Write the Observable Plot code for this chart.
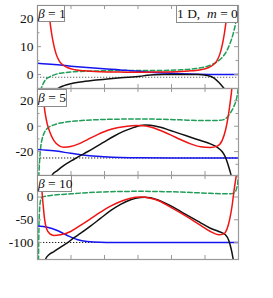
<!DOCTYPE html>
<html><head><meta charset="utf-8">
<script src="https://cdn.jsdelivr.net/npm/d3@7"></script>
<script src="https://cdn.jsdelivr.net/npm/@observablehq/plot@0.6"></script>
<style>
body{margin:0;background:#fff;}
#wrap{position:relative;width:273px;height:298px;overflow:hidden;font-family:"Liberation Serif","Times New Roman",serif;background:#fff;}
.panel{position:absolute;left:0;}
.lab{position:absolute;background:#fff;border:1px solid #8c8c8c;font-size:13.5px;line-height:15px;color:#111;white-space:nowrap;box-sizing:border-box;text-align:center;}
</style></head><body><div id="wrap"></div>
<script>
// ---------- data (x in [0,6]) ----------
const betas = [1, 5, 10];
const panelLabels = ["β = 1", "β = 5", "β = 10"];
const asymptotes = [-1, -25, -100];
const xTicks = [1, 2, 3, 4, 5];
const yLabelTicks = [[0, 10, 20], [-20, 0, 20], [-100, -50, 0]];
const yMinorTicks = [[0, 5, 10, 15, 20], [-30, -20, -10, 0, 10, 20], [-100, -50, 0]];
const yDomains = [[-5.04, 24.8], [-38.8, 29.7], [-137.4, 47.3]];

const red1 = [[0.26,40],[0.32,26],[0.373,19],[0.418,15],[0.478,11],[0.552,7.5],[0.642,5],[0.761,3.4],[0.91,2.4],[1.119,1.7],[1.418,1.3],[1.866,1.0],[2.463,0.85],[3.0,0.8],[3.537,0.85],[4.134,1.0],[4.582,1.3],[4.881,1.7],[5.09,2.4],[5.239,3.4],[5.358,5],[5.448,7.5],[5.522,11],[5.582,15],[5.627,19],[5.68,26],[5.74,40]];
const blue1 = [[0,4.06],[0.49,3.6],[0.99,3.0],[1.48,2.5],[1.98,2.05],[2.48,1.65],[2.78,1.35],[3.07,1.15],[3.27,0.9],[3.77,0.5],[4.27,0.25],[4.77,0.1],[5.26,0.0],[6,-0.05]];
const green1 = [[0.09,-6],[0.11,-5.1],[0.17,-3.3],[0.24,-1.9],[0.34,-1.0],[0.44,-0.4],[0.59,0.25],[0.79,0.6],[1.08,0.97],[1.48,1.19],[1.98,1.33],[2.48,1.42],[3.07,1.44],[3.77,1.45],[4.27,1.68],[4.67,2.05],[4.96,2.6],[5.21,3.6],[5.41,5.0],[5.56,6.8],[5.68,9.2],[5.76,11.6],[5.84,14.6],[5.91,18.2],[5.96,21.8],[5.99,24.8],[6.0,27]];
const black1 = [[0.5,-6.5],[0.54,-5.8],[0.64,-4.8],[0.79,-4.0],[0.99,-3.3],[1.28,-2.7],[1.68,-2.1],[2.08,-1.6],[2.48,-1.15],[3.07,-0.65],[3.27,-0.3],[3.77,-0.05],[4.27,0],[4.77,-0.05],[5.07,-0.4],[5.26,-1.2],[5.41,-2.8],[5.54,-4.6],[5.61,-5.8],[5.65,-7]];

const red2 = [[0.12,45],[0.16,30],[0.21,13.7],[0.24,8.4],[0.29,1.9],[0.37,-4.7],[0.49,-11.3],[0.64,-15.2],[0.79,-16.5],[0.99,-16.0],[1.23,-13.9],[1.48,-10.7],[1.78,-6.8],[2.08,-3.4],[2.38,-1.2],[2.68,0.0],[2.95,0.5],[3.15,0.4],[3.37,-0.6],[3.67,-3.4],[3.97,-6.8],[4.27,-10.5],[4.57,-13.9],[4.87,-16.2],[5.16,-16.8],[5.36,-15.7],[5.51,-11.3],[5.61,-3.4],[5.68,5.8],[5.74,16.3],[5.79,26.8],[5.82,35]];
const black2 = [[0.4,-42],[0.44,-38.3],[0.59,-34.9],[0.79,-30.9],[1.08,-26.2],[1.38,-21.7],[1.68,-17.3],[1.98,-12.6],[2.28,-7.9],[2.58,-3.9],[2.88,-0.9],[3.07,0.6],[3.22,1.0],[3.37,0.8],[3.67,-0.8],[3.97,-3.4],[4.27,-6.0],[4.57,-8.7],[4.87,-11.3],[5.16,-13.9],[5.36,-16.5],[5.51,-19.9],[5.61,-24.4],[5.68,-29.6],[5.74,-34.9],[5.78,-38.8],[5.8,-42]];
const blue2 = [[0,-18.3],[0.49,-19.4],[0.99,-21.3],[1.48,-23.1],[1.98,-24.0],[2.48,-24.6],[3.07,-24.9],[4,-25],[6,-25]];
const green2 = [[0.03,-40],[0.04,-38],[0.06,-28.3],[0.09,-17.8],[0.14,-9.9],[0.21,-4.7],[0.34,-0.8],[0.49,1.1],[0.79,3.0],[1.18,4.2],[1.68,5.0],[2.28,5.5],[3.07,5.7],[3.67,5.5],[4.27,5.0],[4.87,4.5],[5.36,4.5],[5.56,5.2],[5.66,7.0],[5.76,10.5],[5.86,15.5],[5.93,20.5],[5.97,25.5],[6.0,31]];

const red3 = [[0.11,50],[0.14,7],[0.17,-18.7],[0.21,-48],[0.27,-70],[0.37,-81],[0.49,-84.6],[0.69,-83],[0.99,-75.8],[1.28,-62.6],[1.58,-48],[1.88,-33.4],[2.18,-20.2],[2.48,-9.9],[2.78,-2.6],[3.05,-0.2],[3.37,-2.6],[3.67,-9.9],[3.97,-22.4],[4.27,-34.7],[4.57,-48],[4.87,-62.6],[5.16,-75.8],[5.41,-83],[5.56,-81],[5.66,-70],[5.74,-48],[5.81,-18.7],[5.86,10.5],[5.91,36],[5.94,50]];
const black3 = [[0.22,-145],[0.24,-137],[0.34,-127],[0.49,-120],[0.69,-110],[0.89,-101],[1.08,-90],[1.28,-80],[1.58,-64],[1.88,-47],[2.18,-30],[2.48,-16],[2.78,-6],[3.07,-1.0],[3.2,-0.3],[3.37,-1.5],[3.67,-8.5],[3.97,-19],[4.27,-31.5],[4.57,-44.4],[4.87,-56.7],[5.16,-68.6],[5.41,-75.8],[5.61,-83],[5.71,-95.6],[5.78,-113.8],[5.83,-132],[5.86,-145]];
const blue3 = [[0,-64],[0.29,-66.4],[0.59,-73.6],[0.89,-84.6],[1.18,-93.4],[1.48,-98],[1.88,-99.7],[2.5,-100],[6,-100]];
const green3 = [[0.03,-140],[0.04,-80],[0.06,-30],[0.09,-8],[0.14,0],[0.39,3.3],[0.99,7],[1.88,11],[3.07,12.5],[3.97,11.5],[4.57,10],[5.16,8],[5.56,7],[5.76,7],[5.88,10],[5.94,18],[5.97,28],[5.99,40],[6.0,50]];

const seriesByPanel = [
  {red: red1, black: black1, blue: blue1, green: green1},
  {red: red2, black: black2, blue: blue2, green: green2},
  {red: red3, black: black3, blue: blue3, green: green3}
];

// ---------- layout ----------
const W = 273, ML = 37, MR = 35;
const layout = [
  {top: 0, height: 90, mt: 5, mb: 2},
  {top: 86, height: 91, mt: 2, mb: 2},
  {top: 173, height: 88, mt: 2, mb: 2}
];
const colors = {red: "#f01414", black: "#111111", blue: "#1414f0", green: "#1f9e58"};
const frameColor = "#9a9a9a";
const wrap = document.getElementById("wrap");

function lineMark(data, color, dashed) {
  return Plot.line(data, {
    x: d => d[0], y: d => d[1], stroke: color, strokeWidth: 1.5,
    curve: "monotone-x", clip: true,
    strokeDasharray: dashed ? "4.5,2.5" : null
  });
}

betas.forEach((b, i) => {
  const L = layout[i];
  const ph = L.height - L.mt - L.mb;
  const pw = W - ML - MR;
  const s = seriesByPanel[i];
  const labelSet = new Set(yLabelTicks[i]);
  const major = yMinorTicks[i].filter(t => labelSet.has(t));
  const minor = yMinorTicks[i].filter(t => !labelSet.has(t));
  const svg = Plot.plot({
    width: W, height: L.height,
    marginLeft: ML, marginRight: MR, marginTop: L.mt, marginBottom: L.mb,
    style: {background: "transparent", fontFamily: "Liberation Serif, serif", overflow: "visible"},
    x: {domain: [0, 6], axis: null},
    y: {domain: yDomains[i]},
    marks: [
      Plot.ruleY([asymptotes[i]], {stroke: i === 0 ? "#666" : "#222", strokeWidth: 1, strokeDasharray: "1.3,1.7", clip: true}),
      lineMark(s.green, colors.green, true),
      lineMark(s.blue, colors.blue, false),
      lineMark(s.black, colors.black, false),
      lineMark(s.red, colors.red, false),
      Plot.tickX(xTicks, {x: d => d, insetTop: ph - 4, stroke: frameColor}),
      Plot.tickX(xTicks, {x: d => d, insetBottom: ph - 4, stroke: frameColor}),
      Plot.tickY(major, {y: d => d, insetRight: pw - 4, stroke: frameColor}),
      Plot.tickY(major, {y: d => d, insetLeft: pw - 4, stroke: frameColor}),
      Plot.tickY(minor, {y: d => d, insetRight: pw - 2.5, stroke: frameColor}),
      Plot.tickY(minor, {y: d => d, insetLeft: pw - 2.5, stroke: frameColor}),
      Plot.frame({stroke: frameColor, strokeWidth: 1.2}),
      Plot.axisY({ticks: yLabelTicks[i], tickSize: 0, tickPadding: 4, tickFormat: d => String(d), fontSize: 13.5, label: null, fill: "#111"})
    ]
  });
  svg.classList.add("panel");
  svg.style.top = L.top + "px";
  wrap.appendChild(svg);
});

// ---------- label boxes ----------
const boxes = [
  {html: '<i>β</i> = 1', left: 37, top: 5, w: 28, h: 17},
  {html: '<i>β</i> = 5', left: 37, top: 89, w: 30, h: 18},
  {html: '<i>β</i> = 10', left: 37, top: 175, w: 35, h: 17},
  {html: '1 D,&nbsp; <i>m</i> = 0', left: 176, top: 5, w: 62, h: 18}
];
boxes.forEach(bx => {
  const d = document.createElement("div");
  d.className = "lab";
  d.innerHTML = bx.html;
  Object.assign(d.style, {left: bx.left + "px", top: bx.top + "px", width: bx.w + "px", height: bx.h + "px", lineHeight: (bx.h - 2) + "px"});
  wrap.appendChild(d);
});
</script></body></html>
